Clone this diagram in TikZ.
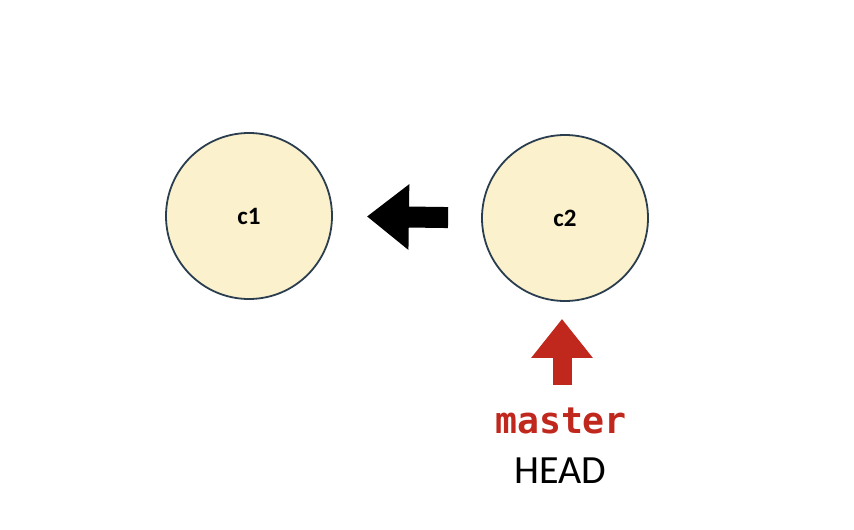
\documentclass[tikz,border=0pt]{standalone}
\usepackage{fontspec}
\setmainfont{Carlito}
\newfontfamily\codefont{DejaVu Sans Mono}
\usepackage{xcolor}
\usetikzlibrary{arrows.meta}
\definecolor{commitfill}{HTML}{FBF1CD}
\definecolor{commitline}{HTML}{2B3E50}
\definecolor{branchred}{HTML}{C0281D}

\begin{document}
\begin{tikzpicture}[x=1pt,y=-1pt]
            \tikzset{
            commit node/.style={circle,draw=commitline,fill=commitfill,line width=1.8pt,minimum size=166pt,inner sep=0,font=\bfseries\fontsize{25}{30}\selectfont},
            parent edge/.style={line width=21pt,-{Triangle[length=42pt,width=63pt]}},
            ref edge/.style={branchred,line width=19pt,-{Triangle[length=39pt,width=59pt]}},
            ref label/.style={anchor=base,inner sep=0}
            }
            \useasboundingbox (0,0) rectangle (854,530);
            \node[commit node] (c1) at (249, 216) {c1};
            \node[commit node] (c2) at (565, 218) {c2};
            \node[ref label,text=branchred,font=\codefont\bfseries\fontsize{36.5}{40}\selectfont] (master) at (561, 433) {master};
            \node[ref label,font=\fontsize{40}{44}\selectfont] (head) at (560, 483) {HEAD};
            \coordinate (mtop) at (562, 385);

            \draw[parent edge,shorten <=33pt,shorten >=34pt] (c2.west) -- (c1.east);
            \draw[ref edge,shorten >=17pt] (mtop) -- (mtop |- c2.south);
        \end{tikzpicture}
\end{document}
